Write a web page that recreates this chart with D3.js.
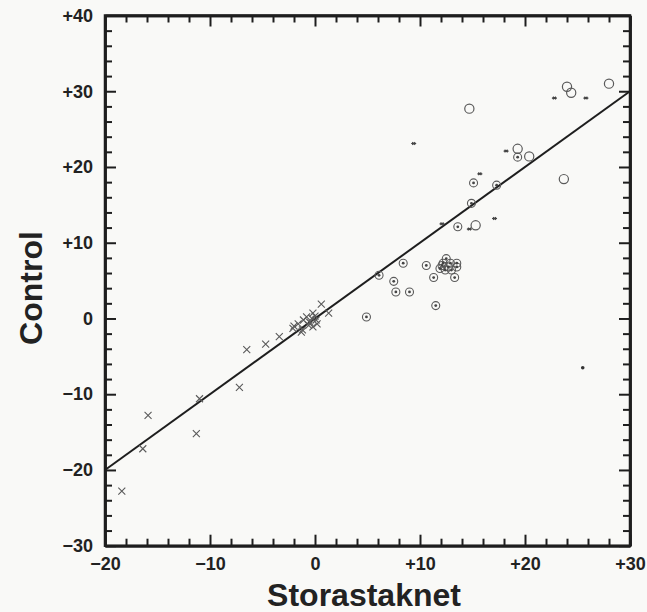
<!DOCTYPE html>
<html>
<head>
<meta charset="utf-8">
<script src="https://cdn.jsdelivr.net/npm/d3@7"></script>
<style>
  html, body { margin: 0; padding: 0; background: #f9f9f7; }
  svg { display: block; }
  text { font-family: "Liberation Sans", Arial, Helvetica, sans-serif; font-weight: bold; fill: #222; }
</style>
</head>
<body>
<svg id="chart" width="647" height="612"></svg>
<script>
// ---- data ----
const xDomain = [-20, 30];
const yDomain = [-30, 40];
const xMajorTicks = [-20, -10, 0, 10, 20, 30];
const xTickLabels = ["\u221220", "\u221210", "0", "+10", "+20", "+30"];
const yMajorTicks = [-30, -20, -10, 0, 10, 20, 30, 40];
const yTickLabels = ["\u221230", "\u221220", "\u221210", "0", "+10", "+20", "+30", "+40"];
const minorStep = 2;
const xLabel = "Storastaknet";
const yLabel = "Control";
const identityLine = [[-20, -20], [30, 30]];

// crosses (x marks)
const crossX = [-18.4, -15.9, -16.4, -11.3, -11.0, -7.2, -6.5, -4.7, -3.4, -2.1, -1.6, -1.3, -1.1, -0.8, -0.5, -0.2, -0.2, 0.2, -0.3, 0.0, 0.6, 1.3, -1.2, -2.0, -0.6, 0.1];
const crossY = [-22.8, -12.8, -17.2, -15.2, -10.6, -9.1, -4.1, -3.4, -2.4, -1.3, -0.7, -1.8, -0.2, 0.2, -0.5, 0.7, -1.1, -0.7, 0.0, 0.3, 1.9, 0.7, -1.5, -1.0, -0.9, -0.2];

// circles with a centre dot
const dotCircleX = [4.9, 6.1, 7.5, 7.7, 9.0, 8.4, 10.6, 11.3, 11.5, 12.5, 12.2, 12.9, 13.5, 11.9, 12.4, 13.0, 13.5, 12.7, 12.1, 13.3, 13.6, 15.1, 17.3, 14.9, 19.3];
const dotCircleY = [0.2, 5.7, 4.9, 3.5, 3.5, 7.3, 7.0, 5.4, 1.7, 7.9, 7.3, 7.3, 7.3, 6.6, 6.4, 6.4, 6.8, 6.8, 7.0, 5.4, 12.1, 17.9, 17.6, 15.2, 21.3];

// open circles
const openCircleX = [14.7, 24.0, 24.4, 28.0, 19.3, 20.4, 23.7, 15.3];
const openCircleY = [27.7, 30.6, 29.8, 31.0, 22.4, 21.4, 18.4, 12.3];

// small asterisks
const starX = [9.4, 22.8, 25.8, 18.2, 15.7, 17.1, 14.7, 12.1];
const starY = [23.1, 29.1, 29.1, 22.1, 19.1, 13.2, 11.8, 12.5];

// lone solid dot
const soloX = [25.5];
const soloY = [-6.5];

// ---- drawing ----
const svg = d3.select("#chart");
const plot = { left: 105, right: 630, top: 15.5, bottom: 545.7 };
const x = d3.scaleLinear().domain(xDomain).range([plot.left, plot.right]);
const y = d3.scaleLinear().domain(yDomain).range([plot.bottom, plot.top]);

const ink = "#1e1e1e";
const markInk = "#5a5a5a";

const minorX = d3.range(xDomain[0], xDomain[1] + 0.001, minorStep).filter(v => !xMajorTicks.includes(v));
const minorY = d3.range(yDomain[0], yDomain[1] + 0.001, minorStep).filter(v => !yMajorTicks.includes(v));

function styleAxis(g) {
  g.select(".domain").attr("stroke", ink).attr("stroke-width", 2.5);
  g.selectAll(".tick line").attr("stroke", ink).attr("stroke-width", 2);
  g.selectAll(".tick text").attr("fill", ink).style("font-size", "18px").style("font-weight", "bold")
    .style("font-family", '"Liberation Sans", Arial, sans-serif');
}

// bottom
const gB = svg.append("g").attr("transform", `translate(0,${plot.bottom})`)
  .call(d3.axisBottom(x).tickValues(xMajorTicks).tickSizeInner(-11).tickSizeOuter(0).tickPadding(12)
    .tickFormat((d, i) => xTickLabels[i]));
styleAxis(gB);
svg.append("g").attr("transform", `translate(0,${plot.bottom})`)
  .call(d3.axisBottom(x).tickValues(minorX).tickSizeInner(-7).tickSizeOuter(0).tickFormat(""))
  .call(styleAxis);

// top
svg.append("g").attr("transform", `translate(0,${plot.top})`)
  .call(d3.axisTop(x).tickValues(xMajorTicks).tickSizeInner(-11).tickSizeOuter(0).tickFormat(""))
  .call(styleAxis);
svg.append("g").attr("transform", `translate(0,${plot.top})`)
  .call(d3.axisTop(x).tickValues(minorX).tickSizeInner(-7).tickSizeOuter(0).tickFormat(""))
  .call(styleAxis);

// left
const gL = svg.append("g").attr("transform", `translate(${plot.left},0)`)
  .call(d3.axisLeft(y).tickValues(yMajorTicks).tickSizeInner(-11).tickSizeOuter(0).tickPadding(12)
    .tickFormat((d, i) => yTickLabels[i]));
styleAxis(gL);
svg.append("g").attr("transform", `translate(${plot.left},0)`)
  .call(d3.axisLeft(y).tickValues(minorY).tickSizeInner(-7).tickSizeOuter(0).tickFormat(""))
  .call(styleAxis);

// right
svg.append("g").attr("transform", `translate(${plot.right},0)`)
  .call(d3.axisRight(y).tickValues(yMajorTicks).tickSizeInner(-11).tickSizeOuter(0).tickFormat(""))
  .call(styleAxis);
svg.append("g").attr("transform", `translate(${plot.right},0)`)
  .call(d3.axisRight(y).tickValues(minorY).tickSizeInner(-7).tickSizeOuter(0).tickFormat(""))
  .call(styleAxis);

// close frame corners
svg.append("rect")
  .attr("x", x(xDomain[0])).attr("y", y(yDomain[1]))
  .attr("width", x(xDomain[1]) - x(xDomain[0])).attr("height", y(yDomain[0]) - y(yDomain[1]))
  .attr("fill", "none").attr("stroke", ink).attr("stroke-width", 2.5);

// identity line
svg.append("path")
  .attr("d", d3.line().x(d => x(d[0])).y(d => y(d[1]))(identityLine))
  .attr("fill", "none").attr("stroke", ink).attr("stroke-width", 2);

// crosses
const crosses = svg.append("g").selectAll("path").data(d3.range(crossX.length)).join("path")
  .attr("d", i => {
    const cx = x(crossX[i]), cy = y(crossY[i]), s = 3.5;
    return `M${cx - s},${cy - s}L${cx + s},${cy + s}M${cx - s},${cy + s}L${cx + s},${cy - s}`;
  })
  .attr("stroke", markInk).attr("stroke-width", 1.1).attr("fill", "none");

// dotted circles
const dc = svg.append("g");
dc.selectAll("circle.o").data(d3.range(dotCircleX.length)).join("circle").attr("class", "o")
  .attr("cx", i => x(dotCircleX[i])).attr("cy", i => y(dotCircleY[i])).attr("r", 4)
  .attr("fill", "none").attr("stroke", markInk).attr("stroke-width", 1.1);
dc.selectAll("circle.c").data(d3.range(dotCircleX.length)).join("circle").attr("class", "c")
  .attr("cx", i => x(dotCircleX[i])).attr("cy", i => y(dotCircleY[i])).attr("r", 1.4)
  .attr("fill", "#444");

// open circles
svg.append("g").selectAll("circle").data(d3.range(openCircleX.length)).join("circle")
  .attr("cx", i => x(openCircleX[i])).attr("cy", i => y(openCircleY[i])).attr("r", 4.6)
  .attr("fill", "none").attr("stroke", markInk).attr("stroke-width", 1.2);

// small asterisks
svg.append("g").selectAll("path").data(d3.range(starX.length)).join("path")
  .attr("d", i => {
    const cx = x(starX[i]), cy = y(starY[i]);
    return `M${cx - 2.5},${cy}L${cx + 2.5},${cy}M${cx - 1.5},${cy - 1.3}L${cx + 1.5},${cy + 1.3}M${cx - 1.5},${cy + 1.3}L${cx + 1.5},${cy - 1.3}`;
  })
  .attr("stroke", "#444").attr("stroke-width", 1.2).attr("fill", "none");

// solid dot
svg.append("g").selectAll("circle").data(d3.range(soloX.length)).join("circle")
  .attr("cx", i => x(soloX[i])).attr("cy", i => y(soloY[i])).attr("r", 1.8)
  .attr("fill", "#333");

// axis titles
svg.append("text")
  .attr("x", 364).attr("y", 606)
  .attr("text-anchor", "middle")
  .style("font-size", "32px")
  .text(xLabel);

svg.append("text")
  .attr("transform", "translate(42,288) rotate(-90)")
  .attr("text-anchor", "middle")
  .style("font-size", "32px")
  .text(yLabel);
</script>
</body>
</html>
